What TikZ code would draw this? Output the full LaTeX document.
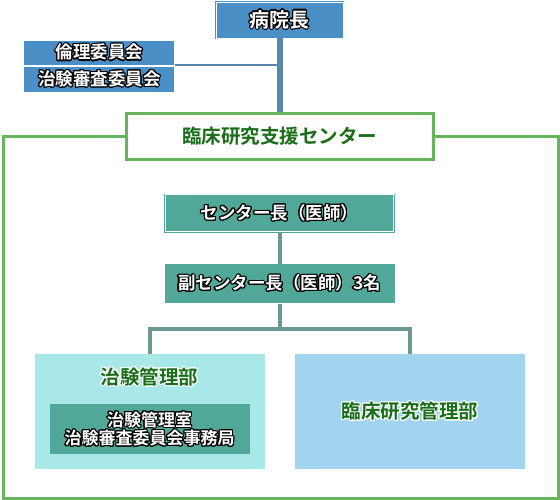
\documentclass[tikz,border=0pt]{standalone}
\usepackage{fontspec}
\setmainfont{Noto Sans CJK JP}[BoldFont={Noto Sans CJK JP Bold}]
\usepackage{contour}
\contourlength{1.1pt}
\usetikzlibrary{positioning}

\definecolor{hospblue}{HTML}{4A90C6}
\definecolor{stemblue}{HTML}{5A88A8}
\definecolor{centgreen}{HTML}{66B45C}
\definecolor{textgreen}{HTML}{1A6E1A}
\definecolor{staffteal}{HTML}{52A898}
\definecolor{linkteal}{HTML}{6B9A92}
\definecolor{trialcyan}{HTML}{A8E8E8}
\definecolor{clinblue}{HTML}{A2D4F0}

\newcommand{\onblack}[1]{\contour{black}{#1}}
\newcommand{\onwhite}[1]{\contour{white}{#1}}

\begin{document}
\begin{tikzpicture}[x=1pt, y=1pt,
    box/.style={inner sep=0pt, text=white, font=\bfseries\fontsize{17.5}{20}\selectfont},
    framedbox/.style={box, fill=#1, draw=#1, double=white, double distance=0.8pt, line width=0.7pt},
    unit/.style={inner sep=0pt, minimum width=230pt, minimum height=115pt, text=textgreen,
      font=\bfseries\fontsize{19.5}{22}\selectfont},
    link/.style={linkteal, line width=4pt}]

    \useasboundingbox (0,0) rectangle (560,500);

    % Define nodes
    \node[framedbox=hospblue, minimum width=127pt, minimum height=36pt,
      font=\bfseries\fontsize{20}{22}\selectfont]                    (chief) at (279.5,480) {\onblack{病院長}};
    \node[box, fill=hospblue, minimum width=150pt, minimum height=24.7pt,
      below left=2pt and 41pt of chief.south west]                    (ethics) {\onblack{倫理委員会}};
    \node[box, fill=hospblue, minimum width=150pt, minimum height=25pt,
      below=1pt of ethics]                                             (irb) {\onblack{治験審査委員会}};

    \node[draw=centgreen, line width=3pt, fill=white, inner sep=0pt,
      minimum width=307pt, minimum height=46pt, text=textgreen,
      font=\bfseries\fontsize{19.5}{22}\selectfont, below=73.5pt of chief] (center) {\onwhite{臨床研究支援センター}};

    \node[framedbox=staffteal, minimum width=228pt, minimum height=37pt,
      below=33.5pt of center]                                          (director) {\onblack{センター長（医師）}};
    \node[box, fill=staffteal, minimum width=230pt, minimum height=39.3pt,
      below=31.8pt of director]                                        (vice) {\onblack{副センター長（医師）3名}};

    \node[unit, fill=trialcyan, below=50.7pt of vice, xshift=-130pt] (trial) {};
    \node[unit, fill=clinblue, right=30pt of trial]                   (clinical) {\onwhite{臨床研究管理部}};
    \node[inner sep=0pt, text=textgreen, font=\bfseries\fontsize{19.5}{22}\selectfont]
                                                  (trialhead) at ([yshift=-23pt]trial.north) {\onwhite{治験管理部}};
    \node[box, fill=staffteal, minimum width=200pt, minimum height=50pt, align=center,
      font=\bfseries\fontsize{17}{18.5}\selectfont, below=50pt of trial.north] (office)
      {\onblack{治験管理室}\\\onblack{治験審査委員会事務局}};

    \coordinate (frameSW) at (3,1.5);
    \coordinate (frameSE) at (558,1.5);
    \coordinate (fork) at ([yshift=-25.7pt]vice.south);

    % Connect the nodes
    \draw[stemblue, line width=6pt] (chief) -- (center);
    \draw[stemblue, line width=2pt] (ethics.south east) -- (ethics.south east -| chief.south);
    \draw[centgreen, line width=3pt] (center.west) -| (frameSW) -- (frameSE) |- (center.east);

    \draw[link] (director) -- (vice);
    \draw[link] (vice) -- (fork);
    \draw[link] (trial.north) |- (fork) -| (clinical.north);

\end{tikzpicture}
\end{document}
